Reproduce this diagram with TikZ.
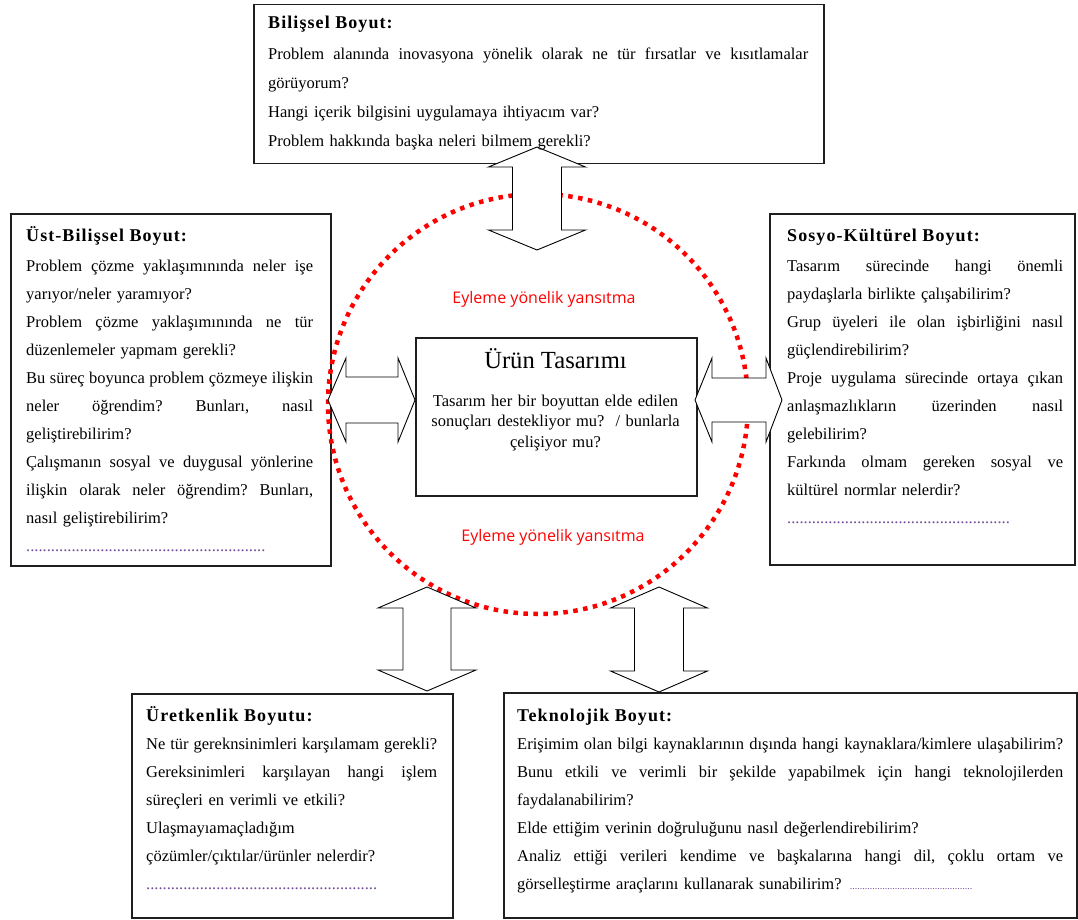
\documentclass[tikz,border=0pt]{standalone}
\usepackage{fontspec}
\setmainfont{Liberation Serif}
\newfontfamily\redsans{Open Sans}
\newfontfamily\titlefont[LetterSpace=6]{Liberation Serif}
\definecolor{edge}{gray}{0.12}
\definecolor{dotc}{rgb}{0.45,0.30,0.60}
\newlength\jw
% a justified line spread to the measure \jw; a natural line kept unbroken
\newcommand\jl[1]{\leavevmode\hbox to \jw{\frenchspacing\spaceskip=0pt\xspaceskip=0pt #1}}
\newcommand\nl[1]{\mbox{#1}}
\newcommand\boxtitle[1]{{\titlefont\bfseries\fontsize{18}{28}\selectfont #1}}
\newcommand\dotrow[1]{{\color{dotc}#1}}

\tikzset{
  frame/.style={draw=edge, line width=1.5pt, fill=white, anchor=north west, inner sep=0pt},
  txt/.style={anchor=north west, inner sep=0pt, align=left, text width=#1,
              execute at begin node={\global\jw=#1\relax},
              font=\fontsize{16.5}{28}\selectfont},
  blockarrow/.style={draw=black, line width=0.9pt, fill=white, line join=miter},
  reflect/.style={draw=red, line width=4.5pt, dash pattern=on 4.5pt off 5.5pt},
  redlabel/.style={text=red, font=\redsans\fontsize{16}{18}\selectfont, inner sep=0pt, anchor=base},
}

\begin{document}
\begin{tikzpicture}[x=1pt, y=-1pt]
\useasboundingbox (0,0) rectangle (1078,920);

% frames of the six boxes
\node[frame, minimum width=570pt, minimum height=159pt] (bilissel) at (253,4) {};
\node[frame, minimum width=320pt, minimum height=352pt] (ustbilissel) at (10,213) {};
\node[frame, minimum width=305pt, minimum height=351pt] (sosyo) at (769,213) {};
\node[frame, minimum width=281pt, minimum height=158pt] (urun) at (415,337) {};
\node[frame, minimum width=321pt, minimum height=224pt] (uretkenlik) at (131,693) {};
\node[frame, minimum width=573pt, minimum height=225pt] (teknolojik) at (503,692) {};

% dotted reflection circle
\draw[reflect] (538,404) circle [radius=210];

% double block arrows
\draw[blockarrow] (537,147) -- (585.5,167) -- (561.5,167) -- (561.5,230) -- (585.5,230)
  -- (537,250) -- (488.5,230) -- (512.5,230) -- (512.5,167) -- (488.5,167) -- cycle;
\draw[blockarrow] (328,400) -- (346,358) -- (346,377) -- (398,377) -- (398,358)
  -- (415,400) -- (398,442) -- (398,423) -- (346,423) -- (346,442) -- cycle;
\draw[blockarrow] (695,400) -- (712,358) -- (712,378) -- (766,378) -- (766,358)
  -- (782,400) -- (766,442) -- (766,422) -- (712,422) -- (712,442) -- cycle;
\draw[blockarrow] (427,587) -- (476,608) -- (451,608) -- (451,670) -- (476,670)
  -- (427,691) -- (378,670) -- (403,670) -- (403,608) -- (378,608) -- cycle;
\draw[blockarrow] (659,587) -- (707.5,608) -- (683.5,608) -- (683.5,671) -- (707.5,671)
  -- (659,692) -- (610.5,671) -- (634.5,671) -- (634.5,608) -- (610.5,608) -- cycle;

% reflection labels
\node[redlabel] (refltop) at (544,303) {Eyleme yönelik yansıtma};
\node[redlabel] (reflbot) at (553,541) {Eyleme yönelik yansıtma};

% box texts
\node[txt=540pt, font=\fontsize{16.5}{29}\selectfont] (bilisseltxt) at (268,8) {\noindent\strut\boxtitle{Bilişsel Boyut:}\\[2pt]
\jl{Problem alanında inovasyona yönelik olarak ne tür fırsatlar ve kısıtlamalar}\\
\nl{görüyorum?}\\
\nl{Hangi içerik bilgisini uygulamaya ihtiyacım var?}\\
\nl{Problem hakkında başka neleri bilmem gerekli?}};

\node[txt=287pt] (ustbilisseltxt) at (26,221.4) {\noindent\strut\boxtitle{Üst-Bilişsel Boyut:}\\[2pt]
\jl{Problem çözme yaklaşımınında neler işe}\\
\nl{yarıyor/neler yaramıyor?}\\
\jl{Problem çözme yaklaşımınında ne tür}\\
\nl{düzenlemeler yapmam gerekli?}\\
\jl{Bu süreç boyunca problem çözmeye ilişkin}\\
\jl{neler öğrendim? Bunları, nasıl}\\
\nl{geliştirebilirim?}\\
\jl{Çalışmanın sosyal ve duygusal yönlerine}\\
\jl{ilişkin olarak neler öğrendim? Bunları,}\\
\nl{nasıl geliştirebilirim?}\\
\dotrow{..........................................................}};

\node[txt=276pt] (sosyotxt) at (787,221.4) {\noindent\strut\boxtitle{Sosyo-Kültürel Boyut:}\\[2pt]
\jl{Tasarım sürecinde hangi önemli}\\
\nl{paydaşlarla birlikte çalışabilirim?}\\
\jl{Grup üyeleri ile olan işbirliğini nasıl}\\
\nl{güçlendirebilirim?}\\
\jl{Proje uygulama sürecinde ortaya çıkan}\\
\jl{anlaşmazlıkların üzerinden nasıl}\\
\nl{gelebilirim?}\\
\jl{Farkında olmam gereken sosyal ve}\\
\nl{kültürel normlar nelerdir?}\\
\dotrow{......................................................}};

\node[anchor=base, inner sep=0pt, font=\fontsize{24.6}{28}\selectfont] (uruntitle) at (555.5,368) {Ürün Tasarımı};
\node[anchor=north, inner sep=0pt, align=center, text width=270pt,
      font=\fontsize{16.5}{20.5}\selectfont] (uruntxt) at (555.5,391.6)
  {\strut Tasarım her bir boyuttan elde edilen\\ sonuçları destekliyor mu?\ \ / bunlarla\\ çelişiyor mu?};

\node[txt=291pt] (uretkenliktxt) at (146,701.4) {\noindent\strut\boxtitle{Üretkenlik Boyutu:}\\
\jl{Ne tür gereknsinimleri karşılamam gerekli?}\\
\jl{Gereksinimleri karşılayan hangi işlem}\\
\nl{süreçleri en verimli ve etkili?}\\
\nl{Ulaşmayıamaçladığım}\\
\nl{çözümler/çıktılar/ürünler nelerdir?}\\
\dotrow{........................................................}};

\node[txt=546pt] (teknolojiktxt) at (517,701.4) {\noindent\strut\boxtitle{Teknolojik Boyut:}\\
\jl{Erişimim olan bilgi kaynaklarının dışında hangi kaynaklara/kimlere ulaşabilirim?}\\
\jl{Bunu etkili ve verimli bir şekilde yapabilmek için hangi teknolojilerden}\\
\nl{faydalanabilirim?}\\
\nl{Elde ettiğim verinin doğruluğunu nasıl değerlendirebilirim?}\\
\jl{Analiz ettiği verileri kendime ve başkalarına hangi dil, çoklu ortam ve}\\
\nl{görselleştirme araçlarını kullanarak sunabilirim? \dotrow{\fontsize{10}{28}\selectfont .................................................}}};

\end{tikzpicture}
\end{document}
